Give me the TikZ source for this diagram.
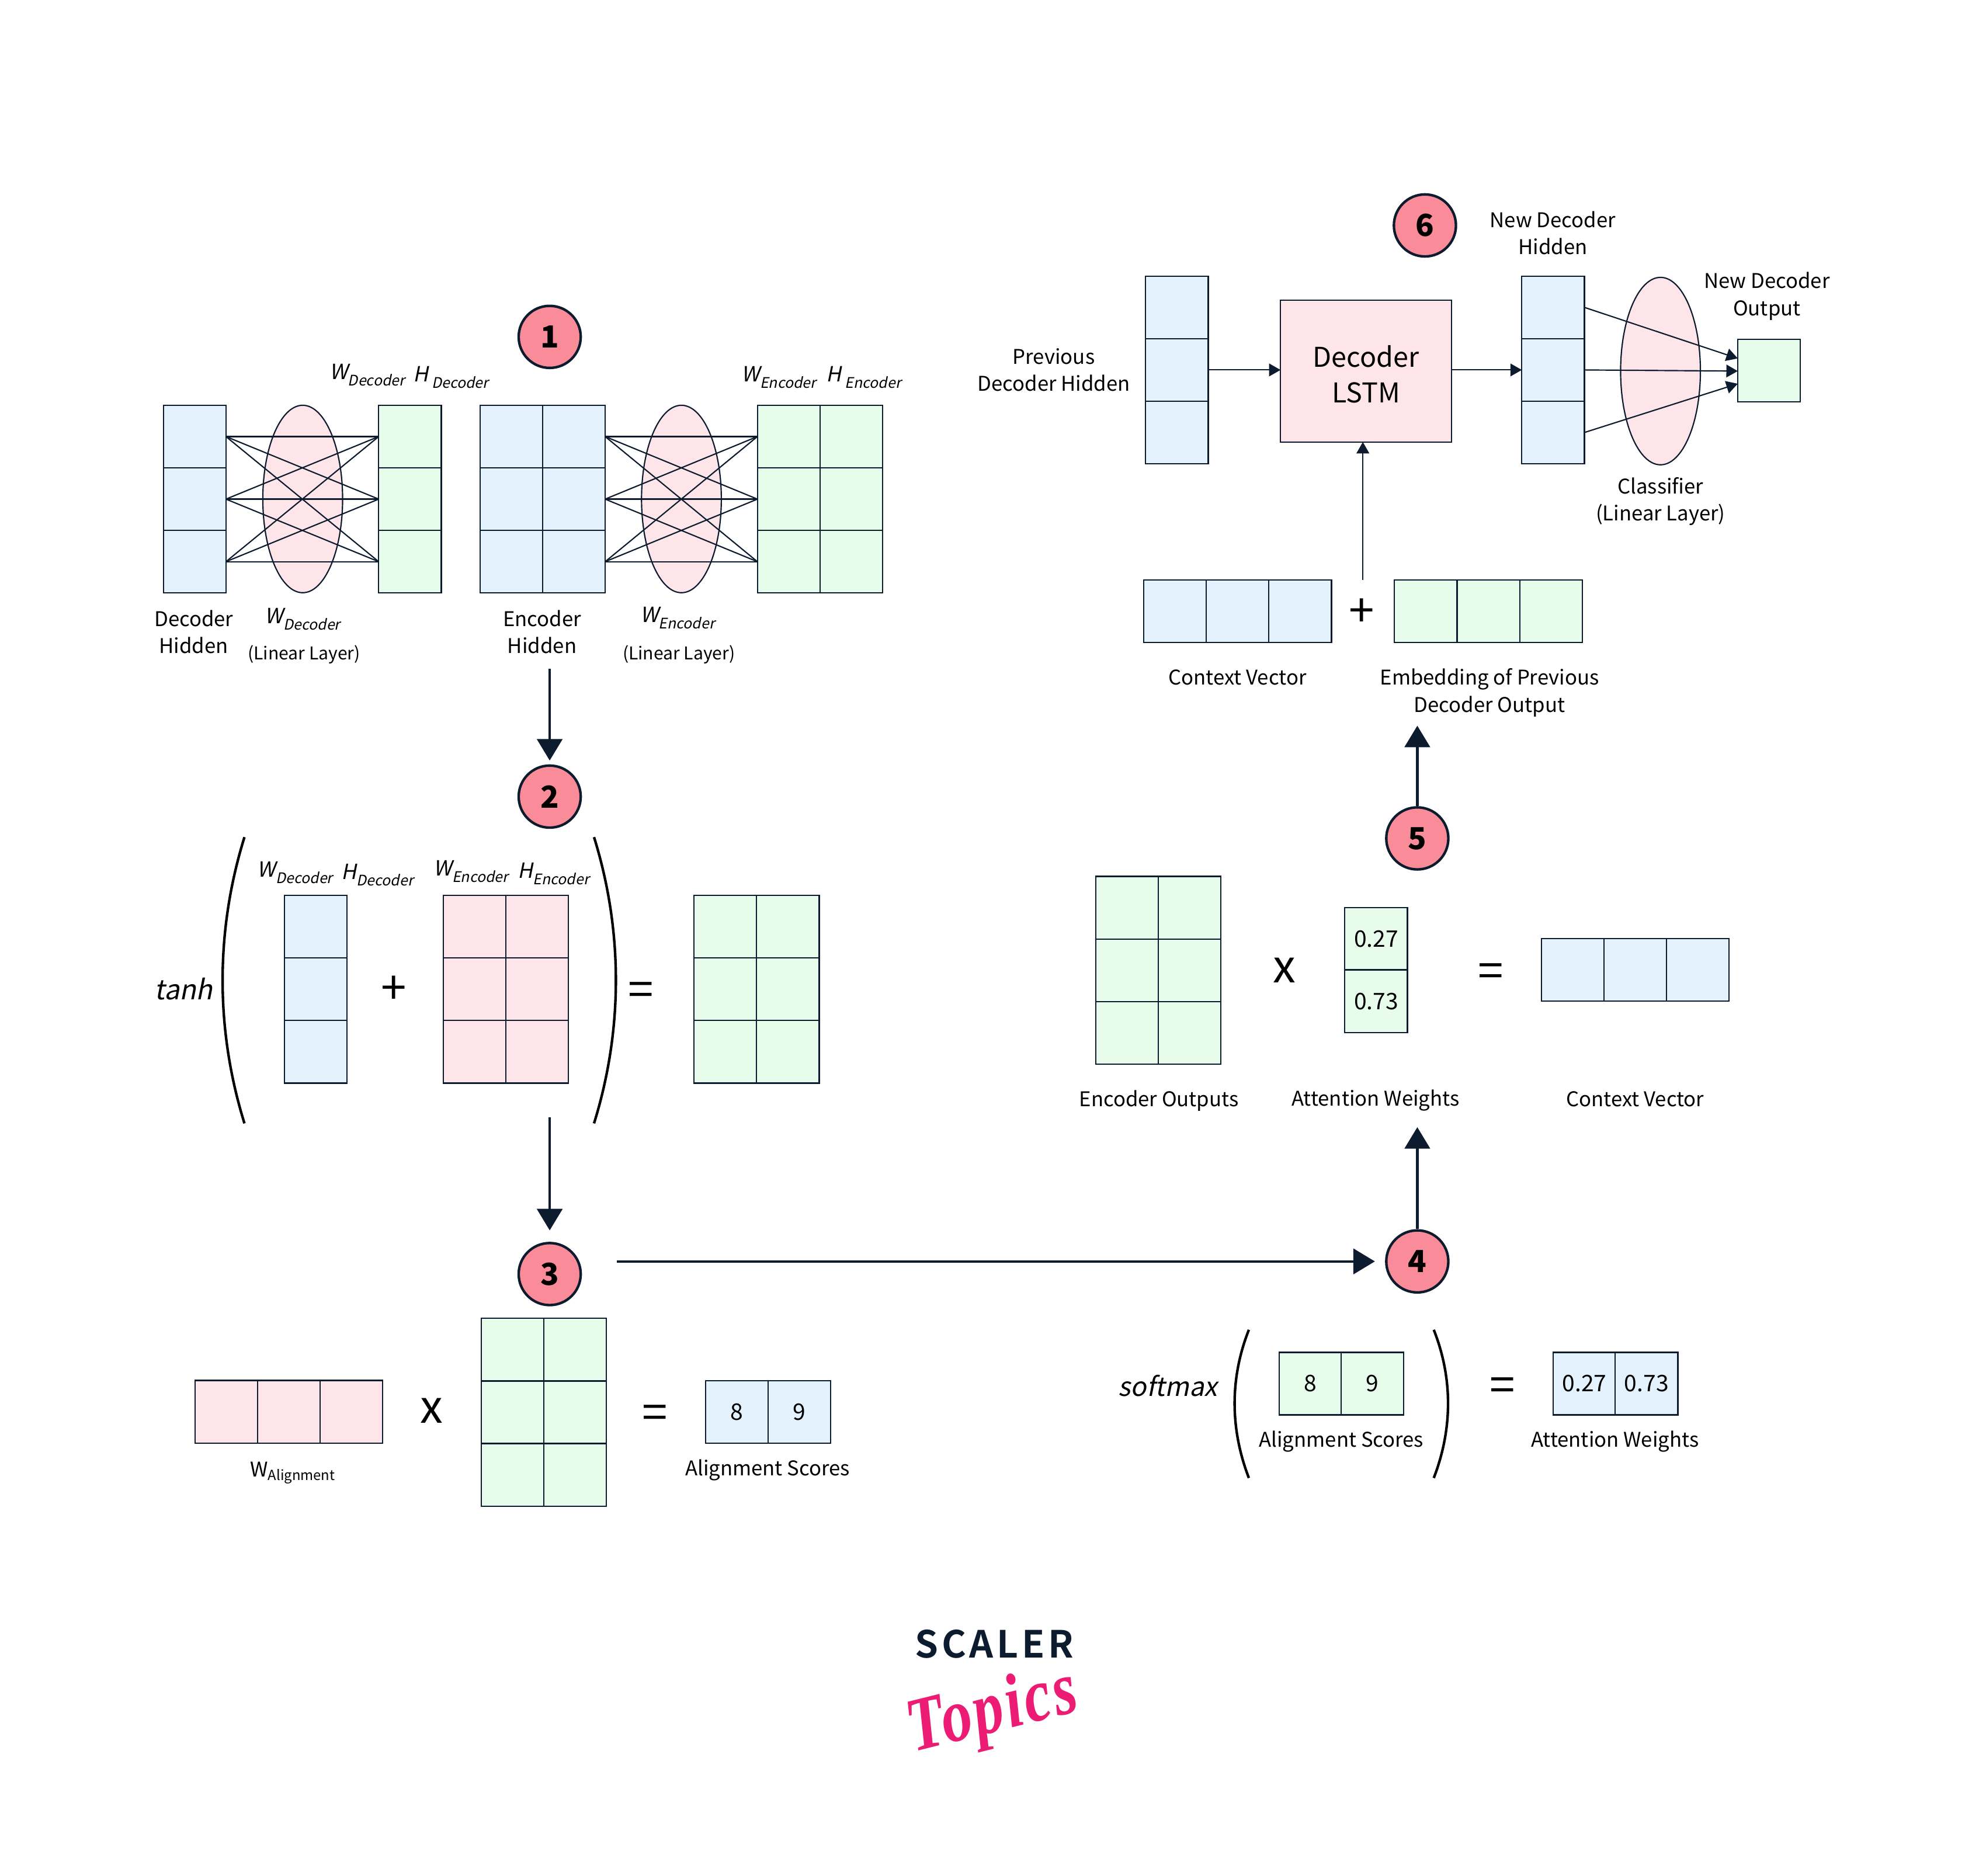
\documentclass[tikz,border=0pt]{standalone}
\usepackage{fontspec}
\setmainfont{Noto Sans CJK SC}
\newfontfamily\slfont[FakeSlant=0.2]{Noto Sans CJK SC}
\newfontfamily\logofont[LetterSpace=9]{Noto Sans CJK SC Bold}
\newfontfamily\topicsfont[LetterSpace=4]{Liberation Serif}
\usetikzlibrary{arrows.meta,shapes.geometric}
\definecolor{inkline}{HTML}{0D1B2E}
\definecolor{cellblue}{HTML}{E3F2FD}
\definecolor{cellgreen}{HTML}{E7FCEB}
\definecolor{cellpink}{HTML}{FEE5EA}
\definecolor{badgered}{HTML}{F98C98}
\definecolor{logopink}{HTML}{EC1C74}
\newcommand{\sized}[2]{\fontsize{#1}{#2}\selectfont}
\newcommand{\dimlabel}[2]{{\slfont\sized{16.5}{20}#1}\raisebox{-5pt}{\slfont\sized{11.5}{14}#2}}
\newcommand{\cellgrid}[6]{%
    \foreach \c in {1,...,#5} \foreach \r in {1,...,#6}
        \node[#2] (#1\c\r) at ({#3+(\c-0.5)*49.4},{#4+(\r-0.5)*49.4}) {};}
\tikzset{
    cell/.style={draw=inkline, line width=1pt, inner sep=0pt, outer sep=0pt,
        minimum width=49.4pt, minimum height=49.4pt},
    bluecell/.style={cell, fill=cellblue},
    greencell/.style={cell, fill=cellgreen},
    pinkcell/.style={cell, fill=cellpink},
    layer/.style={shape=ellipse, draw=inkline, line width=1pt, fill=cellpink, inner sep=0pt,
        outer sep=0pt, minimum width=63pt, minimum height=148pt},
    badge/.style={shape=circle, draw=inkline, line width=2pt, fill=badgered, inner sep=0pt,
        outer sep=4pt, minimum size=49pt, font=\sized{24}{30}\bfseries},
    lbl/.style={align=center, inner sep=0pt, font=\sized{16}{21.5}},
    val/.style={align=center, inner sep=0pt, font=\sized{18}{22}},
    sign/.style={inner sep=0pt, font=\sized{36}{40}},
    bigarrow/.style={-{Triangle[width=20pt,length=17pt]}, draw=inkline, fill=inkline, line width=2pt},
    smallarrow/.style={-{Triangle[width=10pt,length=9pt]}, draw=inkline, fill=inkline, line width=1pt},
    paren/.style={draw=black, line width=2pt},
}
\begin{document}
\begin{tikzpicture}[x=1pt,y=-1pt]
    \useasboundingbox (0,0) rectangle (1568,1481);
    % step 1
    \node[badge] (n1) at (434,266) {1};
    \node[layer] (ld) at (239,394) {};
    \node[layer] (le) at (538,394) {};
    \cellgrid{dh}{bluecell}{129}{320}{1}{3}
    \cellgrid{dw}{greencell}{299}{320}{1}{3}
    \cellgrid{eh}{bluecell}{379}{320}{2}{3}
    \cellgrid{ew}{greencell}{598}{320}{2}{3}
    \foreach \a in {1,2,3} \foreach \b in {1,2,3} {
        \draw[inkline, line width=1pt] (dh1\a.east) -- (dw1\b.west);
        \draw[inkline, line width=1pt] (eh2\a.east) -- (ew1\b.west);
    }
    \node[lbl] (t1a) at (290,296) {\dimlabel{W}{Decoder}};
    \node[lbl] (t1b) at (356,298) {\dimlabel{H}{ Decoder}};
    \node[lbl] (t1c) at (615,298) {\dimlabel{W}{Encoder}};
    \node[lbl] (t1d) at (682,298) {\dimlabel{H}{ Encoder}};
    \node[lbl] (t1e) at (153,499) {Decoder\\Hidden};
    \node[lbl] (t1f) at (239,489) {\dimlabel{W}{Decoder}};
    \node[lbl, font=\sized{13.9}{18}] (t1g) at (240,517) {(Linear Layer)};
    \node[lbl] (t1h) at (428,499) {Encoder\\Hidden};
    \node[lbl] (t1i) at (535,488) {\dimlabel{W}{Encoder}};
    \node[lbl, font=\sized{13.9}{18}] (t1j) at (536,517) {(Linear Layer)};
    % step 2
    \coordinate (a1) at (434,528);
    \node[badge] (n2) at (434,629) {2};
    \draw[bigarrow] (a1) -- (n2);
    \node[inner sep=0pt, font=\slfont\sized{21.6}{26}] (t2a) at (145,781) {tanh};
    \draw[paren] (193,661) .. controls (170,735) and (170,813) .. (193,887);
    \draw[paren] (469,661) .. controls (492,735) and (492,813) .. (469,887);
    \node[lbl] (t2b) at (233,689) {\dimlabel{W}{Decoder}};
    \node[lbl] (t2c) at (298,691) {\dimlabel{H}{Decoder}};
    \node[lbl] (t2d) at (372,688) {\dimlabel{W}{Encoder}};
    \node[lbl] (t2e) at (437,690) {\dimlabel{H}{Encoder}};
    \cellgrid{tb}{bluecell}{224.5}{707}{1}{3}
    \node[sign] (t2f) at (311,782) {+};
    \cellgrid{tp}{pinkcell}{350}{707}{2}{3}
    \node[sign] (t2g) at (506,785) {=};
    \cellgrid{tg}{greencell}{548}{707}{2}{3}
    % step 3
    \coordinate (a2) at (434,882);
    \node[badge] (n3) at (434,1006) {3};
    \draw[bigarrow, shorten >=6pt] (a2) -- (n3);
    \cellgrid{wa}{pinkcell}{154}{1090}{3}{1}
    \node[lbl] (t3a) at (231,1163) {W\raisebox{-3pt}{\sized{11}{14}Alignment}};
    \node[sign] (t3b) at (341,1114) {x};
    \cellgrid{eo}{greencell}{380}{1041}{2}{3}
    \node[sign] (t3c) at (517,1119) {=};
    \node[bluecell, val] (s1) at (581.7,1115) {8};
    \node[bluecell, val] (s2) at (631.1,1115) {9};
    \node[lbl] (t3d) at (606,1161) {Alignment Scores};
    % step 4
    \coordinate (a3) at (487,996);
    \node[badge] (n4) at (1119,996) {4};
    \draw[bigarrow, shorten >=5pt] (a3) -- (n4);
    \node[inner sep=0pt, font=\slfont\sized{20.7}{26}] (t4a) at (922,1094) {softmax};
    \draw[paren] (986,1050) .. controls (971,1088) and (971,1128) .. (986,1167);
    \draw[paren] (1132,1050) .. controls (1147,1088) and (1147,1128) .. (1132,1167);
    \node[greencell, val] (g1) at (1034.5,1092.5) {8};
    \node[greencell, val] (g2) at (1083.5,1092.5) {9};
    \node[lbl] (t4b) at (1059,1138) {Alignment Scores};
    \node[sign] (t4c) at (1186,1097) {=};
    \node[bluecell, val] (p1) at (1251,1092.5) {0.27};
    \node[bluecell, val] (p2) at (1300,1092.5) {0.73};
    \node[lbl] (t4d) at (1275,1138) {Attention Weights};
    % step 5
    \coordinate (a4) at (1119,890);
    \draw[bigarrow, shorten <=-3pt] (n4) -- (a4);
    \node[badge] (n5) at (1119,662) {5};
    \cellgrid{ec}{greencell}{865}{692}{2}{3}
    \node[sign] (t5a) at (1014,766) {x};
    \node[greencell, val] (q1) at (1086.5,741.5) {0.27};
    \node[greencell, val] (q2) at (1086.5,790.5) {0.73};
    \node[sign] (t5b) at (1177,770) {=};
    \cellgrid{cv}{bluecell}{1217}{741}{3}{1}
    \node[lbl] (t5c) at (915,869) {Encoder Outputs};
    \node[lbl] (t5d) at (1086,869) {Attention Weights};
    \node[lbl] (t5e) at (1291,868) {Context Vector};
    % step 6
    \coordinate (a5) at (1119,573);
    \draw[bigarrow, shorten <=-3pt] (n5) -- (a5);
    \node[badge] (n6) at (1125,178) {6};
    \cellgrid{ph}{bluecell}{904.5}{218}{1}{3}
    \node[lbl] (t6a) at (832,292) {Previous\\Decoder Hidden};
    \node[draw=inkline, line width=1pt, fill=cellpink, inner sep=0pt, outer sep=0pt, minimum width=135pt,
        minimum height=112pt] (lstm) at (1078.5,293) {};
    \node[align=center, inner sep=0pt, font=\sized{21.5}{28}] (t6h) at (1078.5,295.5) {Decoder\\LSTM};
    \node[layer] (lc) at (1311,293) {};
    \cellgrid{nh}{bluecell}{1201.5}{218}{1}{3}
    \node[greencell] (no) at (1396.5,292.5) {};
    \node[lbl] (t6b) at (1226,184) {New Decoder\\Hidden};
    \node[lbl] (t6c) at (1395,234) {New Decoder\\Output};
    \node[lbl] (t6d) at (1311,396) {Classifier\\(Linear Layer)};
    \draw[smallarrow] (ph12.east) -- (ph12.east -| lstm.west);
    \draw[smallarrow] (lstm.east |- nh12.west) -- (nh12.west);
    \coordinate (o1) at (1372,283);
    \coordinate (o2) at (1372,293);
    \coordinate (o3) at (1372,303);
    \draw[smallarrow] (nh11.east) -- (o1);
    \draw[smallarrow] (nh12.east) -- (o2);
    \draw[smallarrow] (nh13.east) -- (o3);
    \cellgrid{cc}{bluecell}{903}{458}{3}{1}
    \node[sign] (t6e) at (1075,484) {+};
    \cellgrid{em}{greencell}{1101}{458}{3}{1}
    \coordinate (a6) at (1076,458);
    \draw[smallarrow] (a6) -- (a6 |- lstm.south);
    \node[lbl] (t6f) at (977,535) {Context Vector};
    \node[lbl] (t6g) at (1176,547) {Embedding of Previous\\Decoder Output};
    % logo
    \node[inner sep=0pt, text=inkline, font=\logofont\sized{29.5}{32}] (scaler) at (785,1298) {SCALER};
    \node[inner sep=0pt, text=logopink, transform shape, rotate=14, xscale=.8,
        font=\topicsfont\itshape\bfseries\sized{60}{66}] (topics) at (784,1353) {Topics};
\end{tikzpicture}
\end{document}
